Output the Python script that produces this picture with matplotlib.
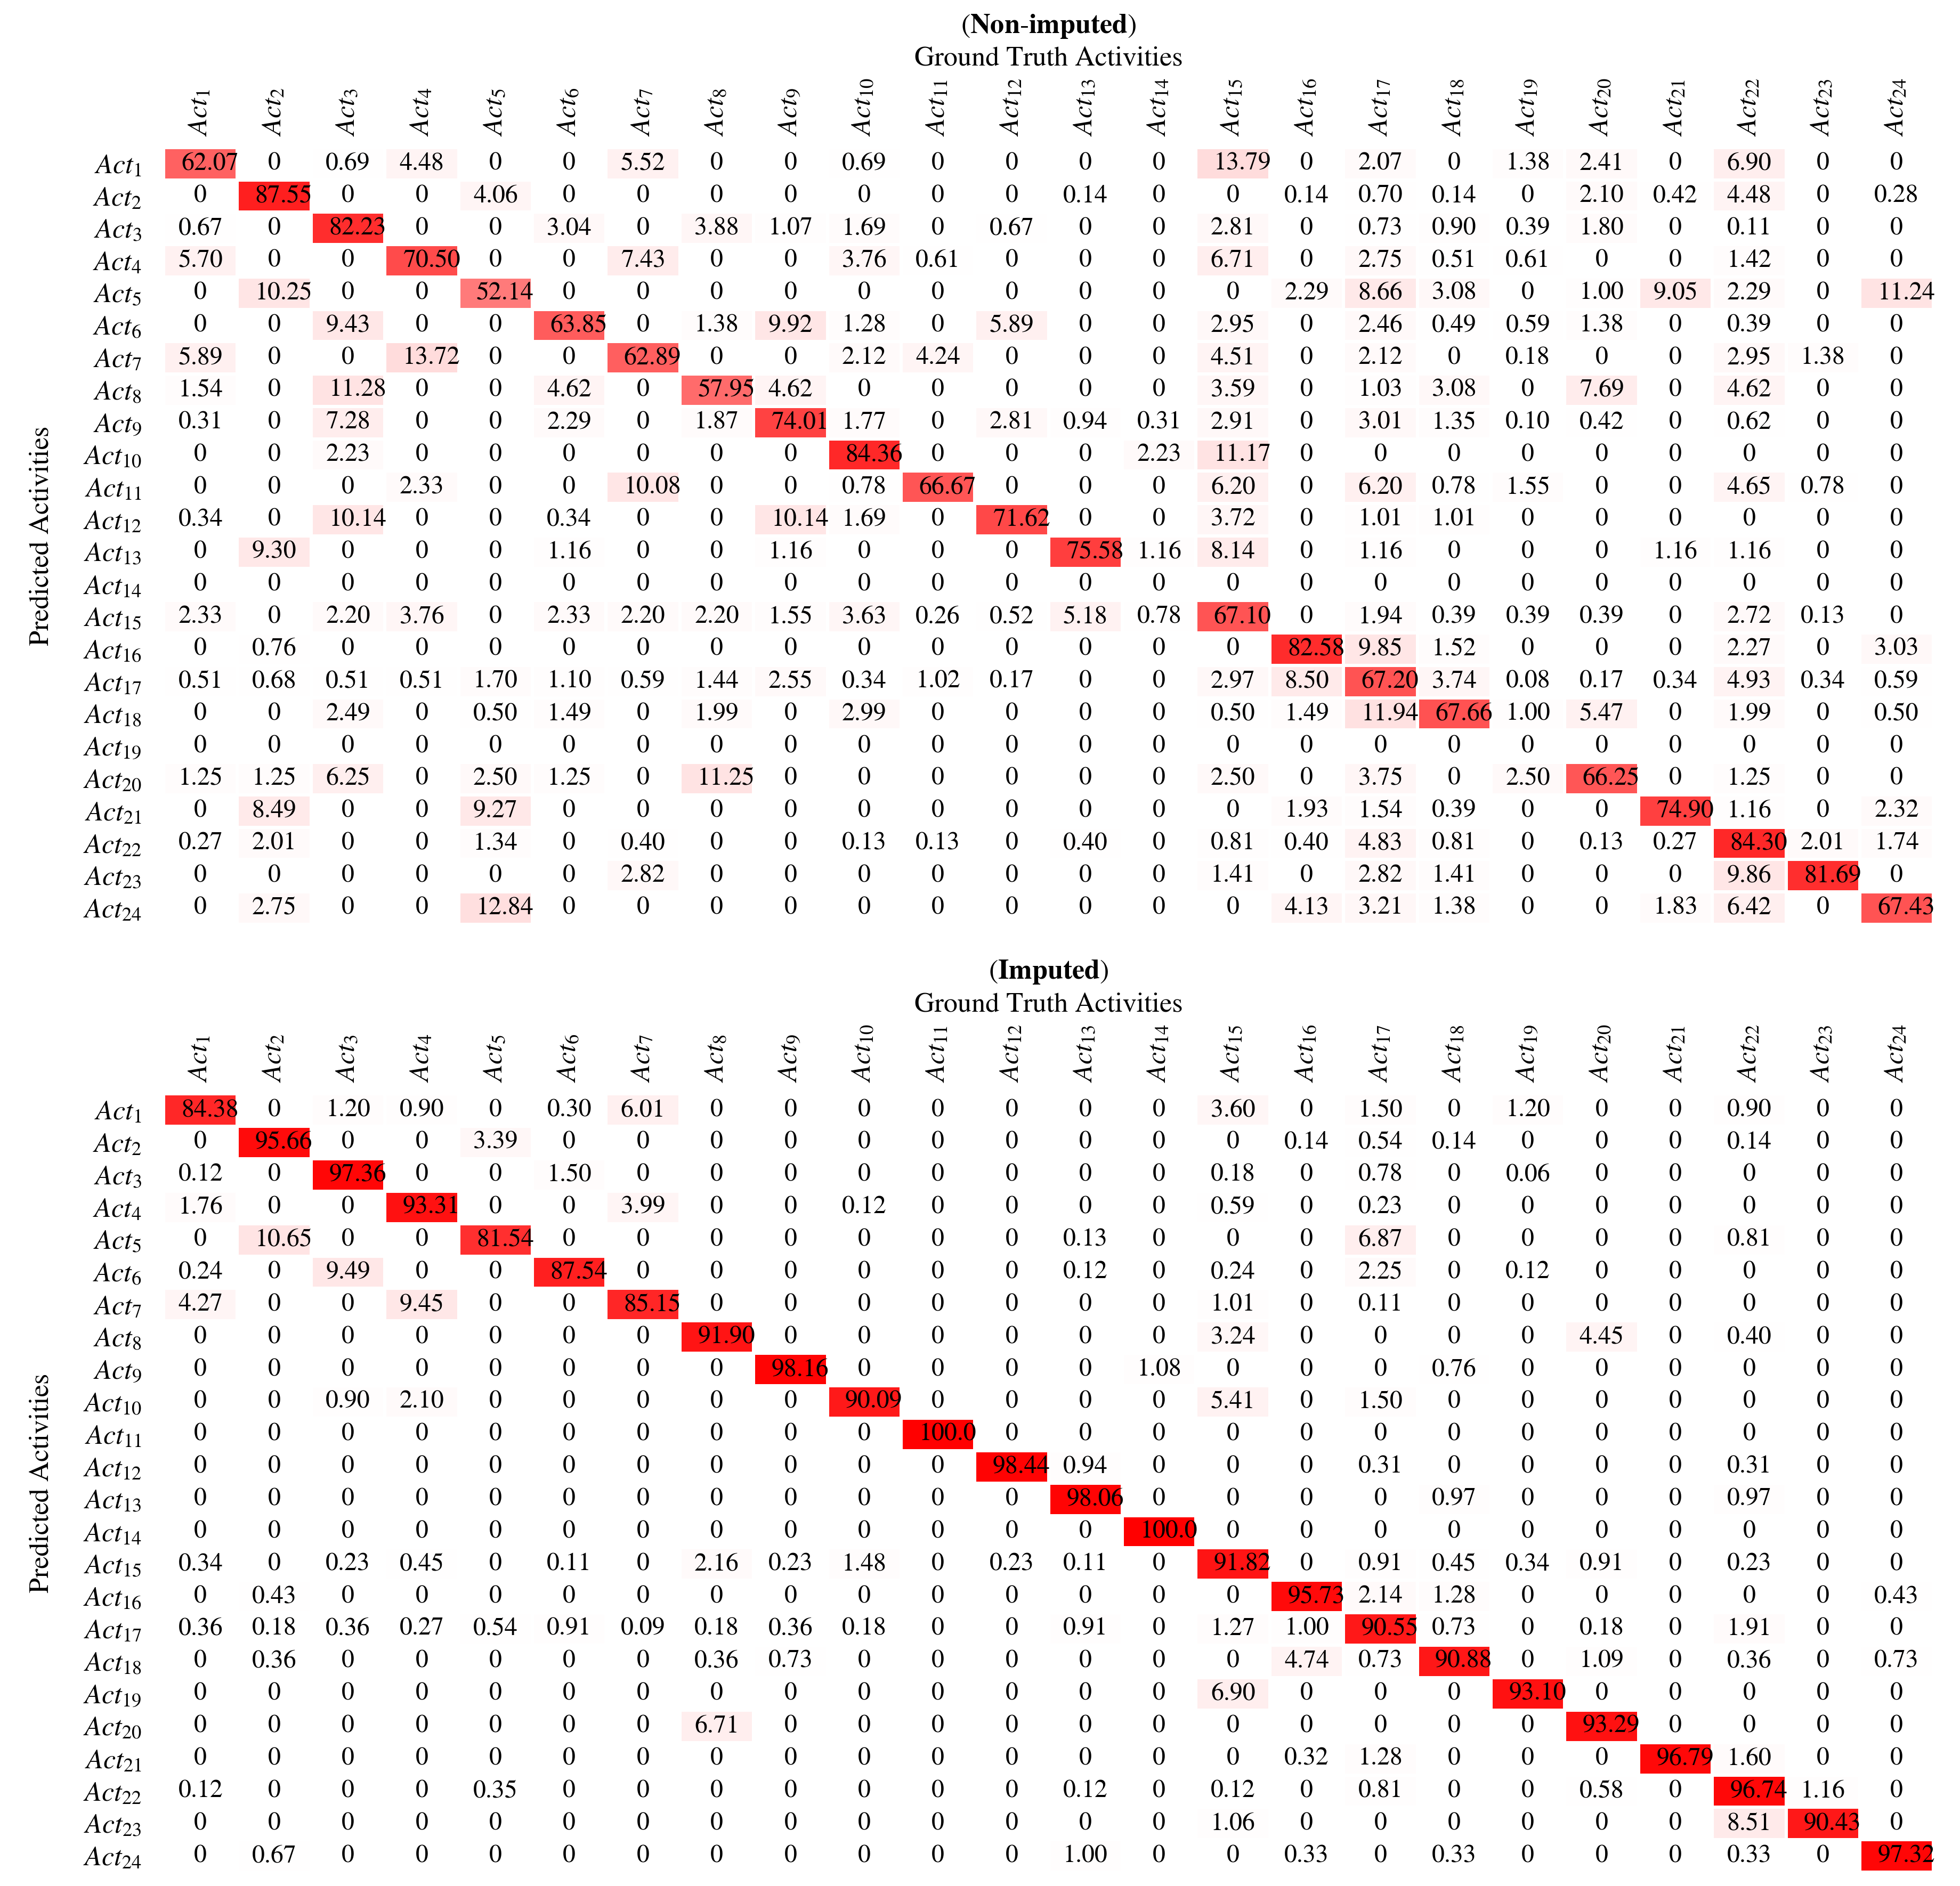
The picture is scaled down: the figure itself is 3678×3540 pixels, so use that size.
import numpy as np
import matplotlib
matplotlib.use('Agg')
import matplotlib.pyplot as plt
from matplotlib.colors import LinearSegmentedColormap

plt.rcParams['font.family'] = 'STIXGeneral'
plt.rcParams['mathtext.fontset'] = 'stix'

labels = [r'$Act_{%d}$' % i for i in range(1, 25)]

# confusion matrices (%), rows = predicted, columns = ground truth
non_imputed = [
    [62.07, 0, 0.69, 4.48, 0, 0, 5.52, 0, 0, 0.69, 0, 0, 0, 0, 13.79, 0, 2.07, 0, 1.38, 2.41, 0, 6.90, 0, 0],
    [0, 87.55, 0, 0, 4.06, 0, 0, 0, 0, 0, 0, 0, 0.14, 0, 0, 0.14, 0.70, 0.14, 0, 2.10, 0.42, 4.48, 0, 0.28],
    [0.67, 0, 82.23, 0, 0, 3.04, 0, 3.88, 1.07, 1.69, 0, 0.67, 0, 0, 2.81, 0, 0.73, 0.90, 0.39, 1.80, 0, 0.11, 0, 0],
    [5.70, 0, 0, 70.50, 0, 0, 7.43, 0, 0, 3.76, 0.61, 0, 0, 0, 6.71, 0, 2.75, 0.51, 0.61, 0, 0, 1.42, 0, 0],
    [0, 10.25, 0, 0, 52.14, 0, 0, 0, 0, 0, 0, 0, 0, 0, 0, 2.29, 8.66, 3.08, 0, 1.00, 9.05, 2.29, 0, 11.24],
    [0, 0, 9.43, 0, 0, 63.85, 0, 1.38, 9.92, 1.28, 0, 5.89, 0, 0, 2.95, 0, 2.46, 0.49, 0.59, 1.38, 0, 0.39, 0, 0],
    [5.89, 0, 0, 13.72, 0, 0, 62.89, 0, 0, 2.12, 4.24, 0, 0, 0, 4.51, 0, 2.12, 0, 0.18, 0, 0, 2.95, 1.38, 0],
    [1.54, 0, 11.28, 0, 0, 4.62, 0, 57.95, 4.62, 0, 0, 0, 0, 0, 3.59, 0, 1.03, 3.08, 0, 7.69, 0, 4.62, 0, 0],
    [0.31, 0, 7.28, 0, 0, 2.29, 0, 1.87, 74.01, 1.77, 0, 2.81, 0.94, 0.31, 2.91, 0, 3.01, 1.35, 0.10, 0.42, 0, 0.62, 0, 0],
    [0, 0, 2.23, 0, 0, 0, 0, 0, 0, 84.36, 0, 0, 0, 2.23, 11.17, 0, 0, 0, 0, 0, 0, 0, 0, 0],
    [0, 0, 0, 2.33, 0, 0, 10.08, 0, 0, 0.78, 66.67, 0, 0, 0, 6.20, 0, 6.20, 0.78, 1.55, 0, 0, 4.65, 0.78, 0],
    [0.34, 0, 10.14, 0, 0, 0.34, 0, 0, 10.14, 1.69, 0, 71.62, 0, 0, 3.72, 0, 1.01, 1.01, 0, 0, 0, 0, 0, 0],
    [0, 9.30, 0, 0, 0, 1.16, 0, 0, 1.16, 0, 0, 0, 75.58, 1.16, 8.14, 0, 1.16, 0, 0, 0, 1.16, 1.16, 0, 0],
    [0] * 24,
    [2.33, 0, 2.20, 3.76, 0, 2.33, 2.20, 2.20, 1.55, 3.63, 0.26, 0.52, 5.18, 0.78, 67.10, 0, 1.94, 0.39, 0.39, 0.39, 0, 2.72, 0.13, 0],
    [0, 0.76, 0, 0, 0, 0, 0, 0, 0, 0, 0, 0, 0, 0, 0, 82.58, 9.85, 1.52, 0, 0, 0, 2.27, 0, 3.03],
    [0.51, 0.68, 0.51, 0.51, 1.70, 1.10, 0.59, 1.44, 2.55, 0.34, 1.02, 0.17, 0, 0, 2.97, 8.50, 67.20, 3.74, 0.08, 0.17, 0.34, 4.93, 0.34, 0.59],
    [0, 0, 2.49, 0, 0.50, 1.49, 0, 1.99, 0, 2.99, 0, 0, 0, 0, 0.50, 1.49, 11.94, 67.66, 1.00, 5.47, 0, 1.99, 0, 0.50],
    [0] * 24,
    [1.25, 1.25, 6.25, 0, 2.50, 1.25, 0, 11.25, 0, 0, 0, 0, 0, 0, 2.50, 0, 3.75, 0, 2.50, 66.25, 0, 1.25, 0, 0],
    [0, 8.49, 0, 0, 9.27, 0, 0, 0, 0, 0, 0, 0, 0, 0, 0, 1.93, 1.54, 0.39, 0, 0, 74.90, 1.16, 0, 2.32],
    [0.27, 2.01, 0, 0, 1.34, 0, 0.40, 0, 0, 0.13, 0.13, 0, 0.40, 0, 0.81, 0.40, 4.83, 0.81, 0, 0.13, 0.27, 84.30, 2.01, 1.74],
    [0, 0, 0, 0, 0, 0, 2.82, 0, 0, 0, 0, 0, 0, 0, 1.41, 0, 2.82, 1.41, 0, 0, 0, 9.86, 81.69, 0],
    [0, 2.75, 0, 0, 12.84, 0, 0, 0, 0, 0, 0, 0, 0, 0, 0, 4.13, 3.21, 1.38, 0, 0, 1.83, 6.42, 0, 67.43],
]

imputed = [
    [84.38, 0, 1.20, 0.90, 0, 0.30, 6.01, 0, 0, 0, 0, 0, 0, 0, 3.60, 0, 1.50, 0, 1.20, 0, 0, 0.90, 0, 0],
    [0, 95.66, 0, 0, 3.39, 0, 0, 0, 0, 0, 0, 0, 0, 0, 0, 0.14, 0.54, 0.14, 0, 0, 0, 0.14, 0, 0],
    [0.12, 0, 97.36, 0, 0, 1.50, 0, 0, 0, 0, 0, 0, 0, 0, 0.18, 0, 0.78, 0, 0.06, 0, 0, 0, 0, 0],
    [1.76, 0, 0, 93.31, 0, 0, 3.99, 0, 0, 0.12, 0, 0, 0, 0, 0.59, 0, 0.23, 0, 0, 0, 0, 0, 0, 0],
    [0, 10.65, 0, 0, 81.54, 0, 0, 0, 0, 0, 0, 0, 0.13, 0, 0, 0, 6.87, 0, 0, 0, 0, 0.81, 0, 0],
    [0.24, 0, 9.49, 0, 0, 87.54, 0, 0, 0, 0, 0, 0, 0.12, 0, 0.24, 0, 2.25, 0, 0.12, 0, 0, 0, 0, 0],
    [4.27, 0, 0, 9.45, 0, 0, 85.15, 0, 0, 0, 0, 0, 0, 0, 1.01, 0, 0.11, 0, 0, 0, 0, 0, 0, 0],
    [0, 0, 0, 0, 0, 0, 0, 91.90, 0, 0, 0, 0, 0, 0, 3.24, 0, 0, 0, 0, 4.45, 0, 0.40, 0, 0],
    [0, 0, 0, 0, 0, 0, 0, 0, 98.16, 0, 0, 0, 0, 1.08, 0, 0, 0, 0.76, 0, 0, 0, 0, 0, 0],
    [0, 0, 0.90, 2.10, 0, 0, 0, 0, 0, 90.09, 0, 0, 0, 0, 5.41, 0, 1.50, 0, 0, 0, 0, 0, 0, 0],
    [0, 0, 0, 0, 0, 0, 0, 0, 0, 0, 100.0, 0, 0, 0, 0, 0, 0, 0, 0, 0, 0, 0, 0, 0],
    [0, 0, 0, 0, 0, 0, 0, 0, 0, 0, 0, 98.44, 0.94, 0, 0, 0, 0.31, 0, 0, 0, 0, 0.31, 0, 0],
    [0, 0, 0, 0, 0, 0, 0, 0, 0, 0, 0, 0, 98.06, 0, 0, 0, 0, 0.97, 0, 0, 0, 0.97, 0, 0],
    [0, 0, 0, 0, 0, 0, 0, 0, 0, 0, 0, 0, 0, 100.0, 0, 0, 0, 0, 0, 0, 0, 0, 0, 0],
    [0.34, 0, 0.23, 0.45, 0, 0.11, 0, 2.16, 0.23, 1.48, 0, 0.23, 0.11, 0, 91.82, 0, 0.91, 0.45, 0.34, 0.91, 0, 0.23, 0, 0],
    [0, 0.43, 0, 0, 0, 0, 0, 0, 0, 0, 0, 0, 0, 0, 0, 95.73, 2.14, 1.28, 0, 0, 0, 0, 0, 0.43],
    [0.36, 0.18, 0.36, 0.27, 0.54, 0.91, 0.09, 0.18, 0.36, 0.18, 0, 0, 0.91, 0, 1.27, 1.00, 90.55, 0.73, 0, 0.18, 0, 1.91, 0, 0],
    [0, 0.36, 0, 0, 0, 0, 0, 0.36, 0.73, 0, 0, 0, 0, 0, 0, 4.74, 0.73, 90.88, 0, 1.09, 0, 0.36, 0, 0.73],
    [0, 0, 0, 0, 0, 0, 0, 0, 0, 0, 0, 0, 0, 0, 6.90, 0, 0, 0, 93.10, 0, 0, 0, 0, 0],
    [0, 0, 0, 0, 0, 0, 0, 6.71, 0, 0, 0, 0, 0, 0, 0, 0, 0, 0, 0, 93.29, 0, 0, 0, 0],
    [0, 0, 0, 0, 0, 0, 0, 0, 0, 0, 0, 0, 0, 0, 0, 0.32, 1.28, 0, 0, 0, 96.79, 1.60, 0, 0],
    [0.12, 0, 0, 0, 0.35, 0, 0, 0, 0, 0, 0, 0, 0.12, 0, 0.12, 0, 0.81, 0, 0, 0.58, 0, 96.74, 1.16, 0],
    [0, 0, 0, 0, 0, 0, 0, 0, 0, 0, 0, 0, 0, 0, 1.06, 0, 0, 0, 0, 0, 0, 8.51, 90.43, 0],
    [0, 0.67, 0, 0, 0, 0, 0, 0, 0, 0, 0, 0, 1.00, 0, 0, 0.33, 0, 0.33, 0, 0, 0, 0.33, 0, 97.32],
]

cmap = LinearSegmentedColormap.from_list('wr', ['white', 'red'])


def fmt(v):
    if v == 0:
        return '0'
    return f'{v:.2f}'[:5]


def draw(ax, data):
    data = np.array(data, dtype=float)
    n = data.shape[0]
    ax.pcolormesh(data, cmap=cmap, vmin=0, vmax=100, edgecolors='white', linewidth=1)
    ax.set_xlim(0, n)
    ax.set_ylim(n, 0)
    for i in range(n):
        for j in range(n):
            s = fmt(data[i, j])
            dx = 0.13 if len(s) == 5 else 0
            ax.text(j + 0.5 + dx, i + 0.5, s, ha='center', va='center', fontsize=11.5)
    ax.set_xticks(np.arange(n) + 0.5)
    ax.set_xticklabels(labels, rotation=90, fontsize=12.5)
    ax.set_yticks(np.arange(n) + 0.5)
    ax.set_yticklabels(labels, fontsize=12.5)
    ax.xaxis.tick_top()
    ax.tick_params(axis='x', length=0, pad=5)
    ax.tick_params(axis='y', length=0, pad=10)
    for sp in ax.spines.values():
        sp.set_visible(False)


fig = plt.figure(figsize=(12.26, 11.8), dpi=300)
ax1 = fig.add_axes([0.0835, 0.5099, 0.903, 0.4119])
ax2 = fig.add_axes([0.0835, 0.0073, 0.903, 0.4127])
draw(ax1, non_imputed)
draw(ax2, imputed)

cx = 0.535
fig.text(cx, 0.9825, r'($\mathbf{Non}$-$\mathbf{imputed}$)', ha='center', va='baseline', fontsize=12.5)
fig.text(cx, 0.9653, 'Ground Truth Activities', ha='center', va='baseline', fontsize=12.5)
fig.text(cx, 0.4811, r'($\mathbf{Imputed}$)', ha='center', va='baseline', fontsize=12.5)
fig.text(cx, 0.4636, 'Ground Truth Activities', ha='center', va='baseline', fontsize=12.5)

for ax in (ax1, ax2):
    pos = ax.get_position()
    fig.text(0.0212, pos.y0 + pos.height / 2, 'Predicted Activities', rotation=90,
             ha='center', va='center', fontsize=12.5)

fig.savefig('out.png', dpi=300)
